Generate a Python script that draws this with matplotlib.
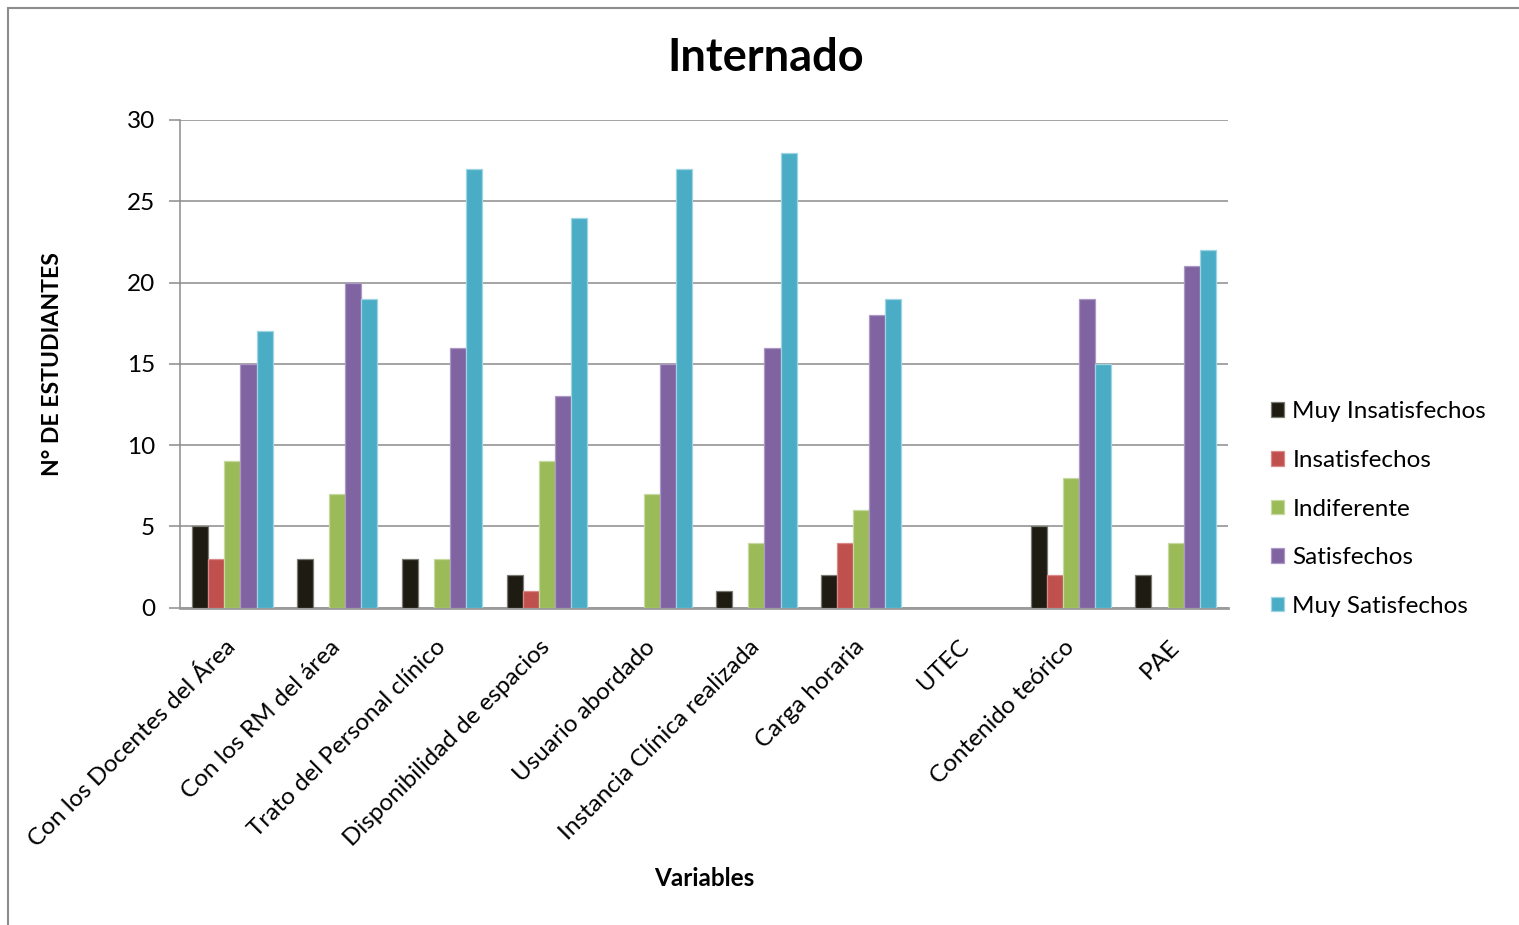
# internado.py
#   satisfaccion de estudiantes en el internado, barras agrupadas

# imports
import numpy as np
import matplotlib
matplotlib.use("Agg")
import matplotlib.pyplot as plt
from matplotlib.patches import Rectangle

plt.rcParams['font.family'] = ['Lato', 'DejaVu Sans']

# data
categorias = ["Con los Docentes del Área", "Con los RM del área",
              "Trato del Personal clínico", "Disponibilidad de espacios",
              "Usuario abordado", "Instancia Clínica realizada",
              "Carga horaria", "UTEC", "Contenido teórico", "PAE"]
series = ["Muy Insatisfechos", "Insatisfechos", "Indiferente",
          "Satisfechos", "Muy Satisfechos"]
muy_insatisfechos = [5, 3, 3, 2, 0, 1, 2, 0, 5, 2]
insatisfechos = [3, 0, 0, 1, 0, 0, 4, 0, 2, 0]
indiferente = [9, 7, 3, 9, 7, 4, 6, 0, 8, 4]
satisfechos = [15, 20, 16, 13, 15, 16, 18, 0, 19, 21]
muy_satisfechos = [17, 19, 27, 24, 27, 28, 19, 0, 15, 22]
valores = [muy_insatisfechos, insatisfechos, indiferente, satisfechos, muy_satisfechos]

colores = ["#1E1C12", "#C0504D", "#9BBB59", "#8064A2", "#4BACC6"]
bordes = ["#7a7a72", "#d98a88", "#c6d9a0", "#ac98c4", "#9fd4e3"]


#########
# plot  #
#########

def main():
    fig = plt.figure(figsize=(15.19, 9.25), dpi=100)
    ax = fig.add_axes([180 / 1519, 1 - 607.5 / 925, 1048 / 1519, 487.5 / 925])

    x = np.arange(len(categorias))
    w = 0.1535
    for i, (nombre, vals) in enumerate(zip(series, valores)):
        vals = np.array(vals, dtype=float)
        lw = np.where(vals > 0, 0.9, 0.0)
        ax.bar(x + (i - 2) * w, vals, w, color=colores[i], edgecolor=bordes[i],
               linewidth=lw, label=nombre, zorder=3)

    ax.set_xlim(-0.5, len(categorias) - 0.5)
    ax.set_ylim(0, 30)
    ax.set_yticks(range(0, 31, 5))
    ax.yaxis.grid(True, color="#8c8c8c", linewidth=1.1, zorder=0)
    ax.tick_params(axis="y", length=8, width=1.1, color="#8c8c8c", pad=10, labelsize=17.5)
    ax.set_xticks(x)
    ax.set_xticklabels(categorias, rotation=45, ha="right", va="center",
                       rotation_mode="anchor", fontsize=17.5)
    ax.tick_params(axis="x", length=0, pad=26)
    for s in ["top", "right"]:
        ax.spines[s].set_visible(False)
    ax.spines["left"].set_color("#8c8c8c")
    ax.spines["left"].set_linewidth(1.1)
    ax.spines["bottom"].set_color("#9a9a9a")
    ax.spines["bottom"].set_linewidth(2)

    ax.legend(loc="center left", bbox_to_anchor=(1249 / 1519, 1 - 509 / 925),
              bbox_transform=fig.transFigure, frameon=False, fontsize=17.5,
              handlelength=0.55, handleheight=0.55, handletextpad=0.33,
              labelspacing=1.135)

    fig.text(766 / 1519, 1 - 58 / 925, "Internado", ha="center", va="center",
             fontsize=32.5, fontweight="bold")
    fig.text(53 / 1519, 1 - 364 / 925, "N° DE ESTUDIANTES", ha="center", va="center",
             rotation=90, fontsize=16.6, fontweight="bold")
    fig.text(704 / 1519, 1 - 879 / 925, "Variables", ha="center", va="center",
             fontsize=17.5, fontweight="bold")

    # marco del grafico (solo se ve el borde izquierdo y el superior)
    fig.patches.append(Rectangle((8 / 1519, -0.1), 1.2, 1.1 - 8 / 925,
                                 transform=fig.transFigure, fill=False,
                                 edgecolor="#8c8c8c", linewidth=1.5))

    fig.savefig("out.png", dpi=100)


if __name__ == "__main__":
    main()
